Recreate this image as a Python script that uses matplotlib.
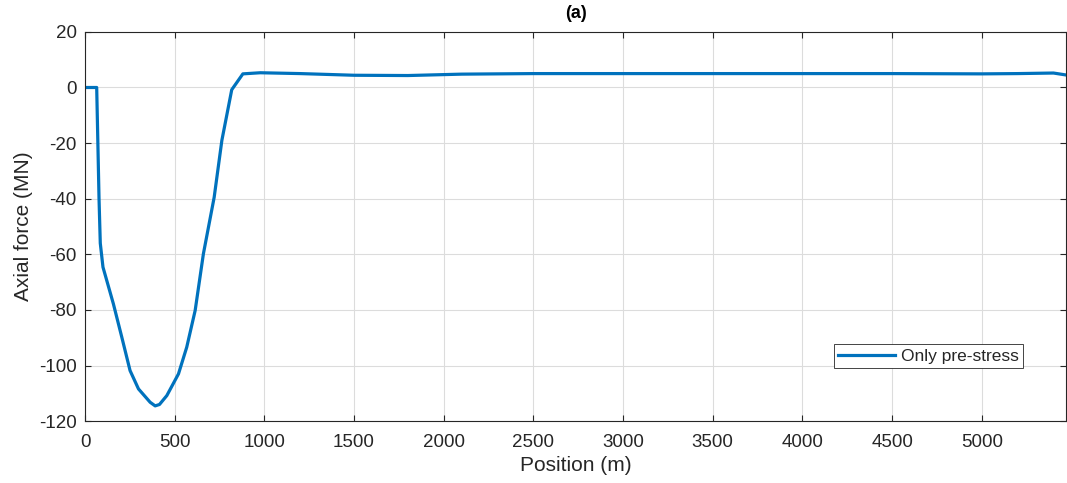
import matplotlib.pyplot as plt
import numpy as np

# axial force along the structure
POSITION = [0, 65, 78, 85, 100, 158, 205, 251, 298, 363, 391, 415, 456, 521,
            567, 614, 660, 720, 763, 818, 880, 977, 1200, 1500, 1800, 2100,
            2500, 3000, 3500, 4000, 4500, 5000, 5200, 5400, 5470]
FORCE = [0, 0, -40, -56, -64.6, -77.8, -89.8, -101.8, -108.4, -113.2, -114.5,
         -114, -110.8, -103, -93.4, -80.2, -59.8, -39.5, -19, -0.8, 4.9, 5.3,
         5.0, 4.4, 4.3, 4.8, 5.0, 5.0, 5.0, 5.0, 5.0, 4.9, 5.0, 5.2, 4.5]
XTICKS = np.arange(0, 5001, 500)
YTICKS = np.arange(-120, 21, 20)

plt.rcParams["font.family"] = ["Liberation Sans", "DejaVu Sans"]
plt.rcParams["axes.unicode_minus"] = False
TXT = "#262626"

fig = plt.figure(figsize=(10.67, 4.83), dpi=100)
ax = fig.add_axes([0.0797, 0.128, 0.9194, 0.806])

ax.plot(POSITION, FORCE, color="#0072BD", linewidth=2.3, label="Only pre-stress")

ax.set_xlim(0, 5470)
ax.set_ylim(-120, 20)
ax.set_xticks(XTICKS)
ax.set_yticks(YTICKS)
ax.grid(True, color="#dcdcdc", linewidth=0.8)
ax.set_axisbelow(True)
ax.tick_params(direction="in", top=True, right=True, labelsize=13.5,
               colors=TXT, length=4)
ax.tick_params(axis="x", pad=9)
ax.tick_params(axis="y", pad=6)
for s in ax.spines.values():
    s.set_color(TXT)
    s.set_linewidth(0.8)

ax.set_xlabel("Position (m)", fontsize=15, color=TXT, labelpad=4)
ax.set_ylabel("Axial force (MN)", fontsize=15, color=TXT, labelpad=4)
ax.set_title("(a)", fontsize=13, fontweight="bold", color="black", pad=10)

leg = ax.legend(loc="lower right", bbox_to_anchor=(0.956, 0.136), fontsize=12.5,
                fancybox=False, framealpha=1, edgecolor=TXT, borderpad=0.25,
                handlelength=3.3, handletextpad=0.3, borderaxespad=0)
leg.get_frame().set_linewidth(0.6)
for t in leg.get_texts():
    t.set_color(TXT)

fig.savefig("out.png", dpi=100)
